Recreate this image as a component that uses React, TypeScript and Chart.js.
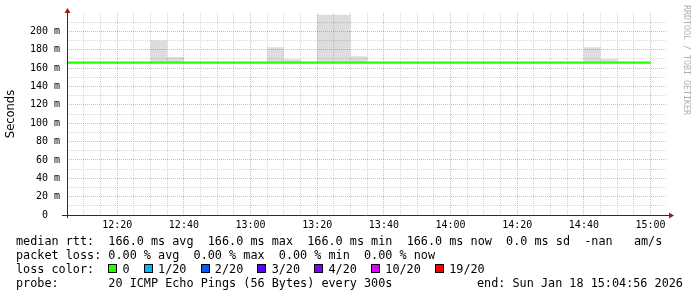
import React, { useEffect, useRef } from 'react';
import { Chart, registerables } from 'chart.js';

Chart.register(...registerables);

// ---- data ----
const rangeStart = '12:04:56';
const rangeEnd = '15:04:56';
const seriesEnd = '15:00';

const slotStart = [
  '12:05', '12:10', '12:15', '12:20', '12:25', '12:30', '12:35', '12:40', '12:45', '12:50',
  '12:55', '13:00', '13:05', '13:10', '13:15', '13:20', '13:25', '13:30', '13:35', '13:40',
  '13:45', '13:50', '13:55', '14:00', '14:05', '14:10', '14:15', '14:20', '14:25', '14:30',
  '14:35', '14:40', '14:45', '14:50', '14:55',
];

const smokeHigh = [
  166, 166, 166, 166, 166, 190, 172, 166, 166, 166,
  166, 166, 182.6, 169.6, 166, 218, 218, 173, 166, 166,
  166, 166, 166, 166, 166, 166, 166, 166, 166, 166,
  166, 182.6, 170, 166, 166,
];

const smokeLow = [
  166, 166, 166, 166, 166, 166, 166, 166, 166, 166,
  166, 166, 166, 166, 166, 166, 166, 166, 166, 166,
  166, 166, 166, 166, 166, 166, 166, 166, 166, 166,
  166, 166, 166, 166, 166,
];

const medianRtt = [
  166, 166, 166, 166, 166, 166, 166, 166, 166, 166,
  166, 166, 166, 166, 166, 166, 166, 166, 166, 166,
  166, 166, 166, 166, 166, 166, 166, 166, 166, 166,
  166, 166, 166, 166, 166,
];

const xTickLabels = ['12:20', '12:40', '13:00', '13:20', '13:40', '14:00', '14:20', '14:40', '15:00'];
const yMin = 0;
const yMax = 220;
const yMinorStep = 10;
const yMajorStep = 20;
const xMinorStep = 5;

const lossLabels = ['0', '1/20', '2/20', '3/20', '4/20', '10/20', '19/20'];
const lossColors = ['#26ff00', '#00b8ff', '#0059ff', '#5e00ff', '#7e00ff', '#dd00ff', '#ff0000'];

const rttLine = 'median rtt:  166.0 ms avg  166.0 ms max  166.0 ms min  166.0 ms now  0.0 ms sd  -nan   am/s';
const lossLine = 'packet loss: 0.00 % avg  0.00 % max  0.00 % min  0.00 % now';
const probeLine = 'probe:       20 ICMP Echo Pings (56 Bytes) every 300s';
const endLine = 'end: Sun Jan 18 15:04:56 2026';
const watermark = 'RRDTOOL / TOBI OETIKER';

// ---- helpers ----
const toMin = (s: string) => {
  const p = s.split(':').map(Number);
  return p[0] * 60 + p[1] + (p[2] || 0) / 60;
};
const fmtMin = (v: number) => `${Math.floor(v / 60)}:${String(Math.round(v % 60)).padStart(2, '0')}`;

const stepPoints = (vals: number[]) => {
  const pts = slotStart.map((t, i) => ({ x: toMin(t), y: vals[i] }));
  pts.push({ x: toMin(seriesEnd), y: vals[vals.length - 1] });
  return pts;
};

const MONO = '"DejaVu Sans Mono", monospace';
const MAJOR = 'rgba(240, 70, 70, 0.45)';
const MINOR = 'rgba(160, 160, 160, 0.42)';

const axesPlugin = {
  id: 'rrdAxes',
  afterDatasetsDraw(chart: any) {
    const { ctx } = chart;
    const { left, right, top, bottom } = chart.chartArea;
    const yb = Math.round(bottom) + 0.5;
    const xl = Math.round(left) + 0.5;
    ctx.save();
    ctx.strokeStyle = '#2c2c2c';
    ctx.lineWidth = 1;
    ctx.beginPath();
    ctx.moveTo(left - 5, yb);
    ctx.lineTo(right + 2, yb);
    ctx.moveTo(xl, bottom + 3);
    ctx.lineTo(xl, top - 1);
    ctx.stroke();
    ctx.fillStyle = '#9b1c1c';
    ctx.beginPath();
    ctx.moveTo(right + 2, yb - 3);
    ctx.lineTo(right + 7, yb);
    ctx.lineTo(right + 2, yb + 3);
    ctx.closePath();
    ctx.fill();
    ctx.beginPath();
    ctx.moveTo(xl - 3, top);
    ctx.lineTo(xl, top - 5);
    ctx.lineTo(xl + 3, top);
    ctx.closePath();
    ctx.fill();
    ctx.restore();
  },
};

function SmokeChart() {
  const ref = useRef<HTMLCanvasElement | null>(null);
  useEffect(() => {
    if (!ref.current) return;
    const xMin = toMin(rangeStart);
    const xMax = toMin(rangeEnd);
    const chart = new Chart(ref.current, {
      type: 'line',
      data: {
        datasets: [
          {
            label: 'smoke low',
            data: stepPoints(smokeLow),
            stepped: 'before',
            borderWidth: 0,
            pointRadius: 0,
            fill: false,
            order: 3,
          },
          {
            label: 'smoke high',
            data: stepPoints(smokeHigh),
            stepped: 'before',
            borderWidth: 0,
            borderColor: 'rgba(0,0,0,0)',
            backgroundColor: 'rgba(0,0,0,0.135)',
            pointRadius: 0,
            fill: '-1',
            order: 2,
          },
          {
            label: 'median rtt',
            data: stepPoints(medianRtt),
            stepped: 'before',
            borderWidth: 2.4,
            borderColor: '#26ff00',
            pointRadius: 0,
            fill: false,
            order: 1,
          },
        ],
      } as any,
      options: {
        animation: false,
        responsive: false,
        devicePixelRatio: 1,
        events: [],
        layout: { padding: { top: 12.6, right: 30, bottom: 0, left: 0 } },
        plugins: { legend: { display: false }, tooltip: { enabled: false } },
        scales: {
          x: {
            type: 'linear',
            min: xMin,
            max: xMax,
            afterBuildTicks: (axis: any) => {
              const ticks = [];
              for (let v = Math.ceil((xMin + 1) / xMinorStep) * xMinorStep; v < xMax; v += xMinorStep) {
                ticks.push({ value: v });
              }
              axis.ticks = ticks;
            },
            afterFit: (scale: any) => {
              scale.height = 82;
            },
            ticks: {
              autoSkip: false,
              maxRotation: 0,
              padding: 4,
              color: '#000',
              font: { family: MONO, size: 10 },
              callback: (v: any) => (xTickLabels.includes(fmtMin(Number(v))) ? fmtMin(Number(v)) : ''),
            },
            grid: {
              drawTicks: false,
              lineWidth: 1,
              color: (c: any) => (c.tick && xTickLabels.includes(fmtMin(c.tick.value)) ? MAJOR : MINOR),
            },
            border: { display: false, dash: [1, 1] },
          },
          y: {
            type: 'linear',
            min: yMin,
            max: yMax,
            afterBuildTicks: (axis: any) => {
              const ticks = [];
              for (let v = yMin; v < yMax; v += yMinorStep) ticks.push({ value: v });
              axis.ticks = ticks;
            },
            afterFit: (scale: any) => {
              scale.width = 67;
            },
            ticks: {
              autoSkip: false,
              padding: 7,
              color: '#000',
              font: { family: MONO, size: 10 },
              callback: (v: any) => {
                const n = Number(v);
                if (n % yMajorStep !== 0) return '';
                return n === 0 ? '0  ' : `${n} m`;
              },
            },
            grid: {
              drawTicks: false,
              lineWidth: 1,
              color: (c: any) => {
                if (!c.tick || c.tick.value === 0) return 'rgba(0,0,0,0)';
                return c.tick.value % yMajorStep === 0 ? MAJOR : MINOR;
              },
            },
            border: { display: false, dash: [1, 1] },
            title: {
              display: true,
              text: 'Seconds',
              color: '#000',
              font: { family: '"DejaVu Sans", sans-serif', size: 11.5 },
              padding: { top: 4.5, bottom: 0 },
            },
          },
        },
      } as any,
      plugins: [axesPlugin],
    });
    return () => chart.destroy();
  }, []);
  return <canvas ref={ref} width={697} height={297} style={{ position: 'absolute', left: 0, top: 0 }} />;
}

const lineStyle = (top: number): React.CSSProperties => ({
  position: 'absolute',
  left: 16,
  top,
  fontFamily: MONO,
  fontSize: '11.8px',
  lineHeight: '14px',
  whiteSpace: 'pre',
  color: '#000',
});

export default function App() {
  useEffect(() => {
    document.body.style.margin = '0';
  }, []);
  return (
    <div style={{ position: 'relative', width: 697, height: 297, background: '#fff', overflow: 'hidden' }}>
      <SmokeChart />
      <div style={lineStyle(234.4)}>{rttLine}</div>
      <div style={lineStyle(248.4)}>{lossLine}</div>
      <div style={lineStyle(262.2)}>
        {'loss color:  '}
        {lossLabels.map((l, i) => (
          <React.Fragment key={l}>
            <span
              style={{
                display: 'inline-block',
                width: 9,
                height: 9,
                boxSizing: 'border-box',
                border: '1px solid #000',
                background: lossColors[i],
                marginRight: 5.2,
                verticalAlign: 'baseline',
              }}
            />
            {l + (i < lossLabels.length - 1 ? '  ' : '')}
          </React.Fragment>
        ))}
      </div>
      <div style={lineStyle(275.9)}>{probeLine}</div>
      <div style={{ ...lineStyle(275.9), left: 477 }}>{endLine}</div>
      <div
        style={{
          position: 'absolute',
          left: 682,
          top: 5,
          writingMode: 'vertical-rl',
          fontFamily: MONO,
          fontSize: '8.3px',
          lineHeight: '9px',
          color: '#b0b0b0',
          whiteSpace: 'pre',
        }}
      >
        {watermark}
      </div>
    </div>
  );
}
